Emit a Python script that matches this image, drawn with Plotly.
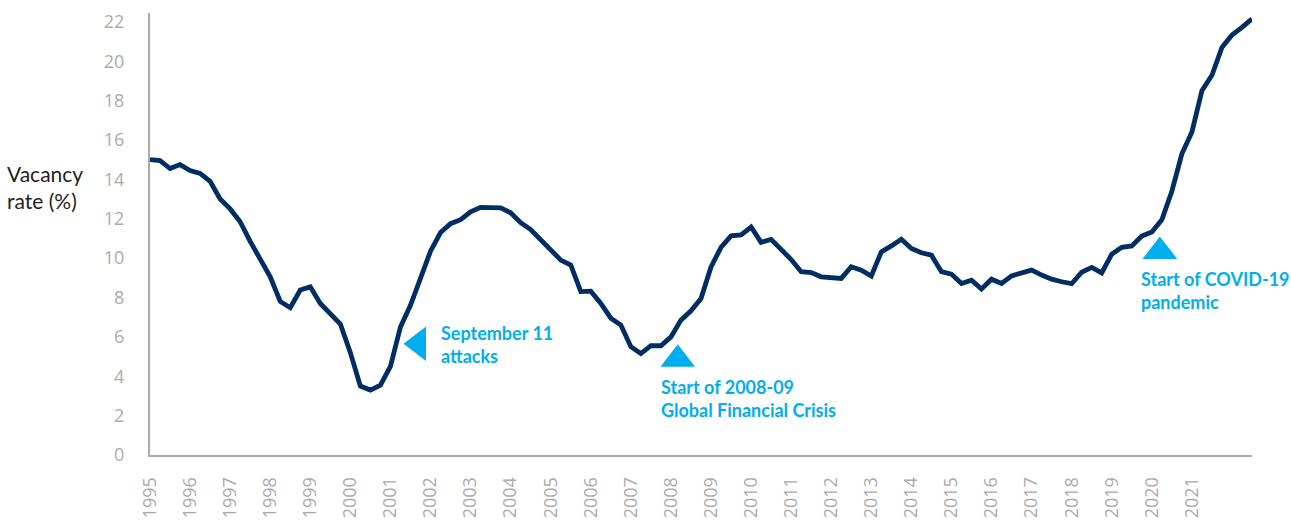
import plotly.graph_objects as go

start_year = 1995
vacancy = [
    15.0, 14.95, 14.55, 14.75, 14.45, 14.3, 13.9, 13.0, 12.5, 11.85,
    10.85, 9.9, 9.05, 7.8, 7.48, 8.38, 8.54, 7.7, 7.2, 6.65,
    5.2, 3.5, 3.3, 3.55, 4.5, 6.5, 7.6, 8.95, 10.35, 11.3,
    11.75, 11.95, 12.35, 12.58, 12.55, 12.55, 12.3, 11.8, 11.45, 10.95,
    10.4, 9.9, 9.65, 8.3, 8.32, 7.7, 6.95, 6.6, 5.5, 5.15,
    5.55, 5.55, 6.0, 6.85, 7.32, 7.95, 9.55, 10.55, 11.13, 11.18,
    11.58, 10.8, 10.95, 10.44, 9.93, 9.31, 9.27, 9.05, 9.02, 8.97,
    9.56, 9.39, 9.09, 10.32, 10.62, 10.96, 10.49, 10.27, 10.15, 9.31,
    9.19, 8.71, 8.88, 8.43, 8.93, 8.71, 9.10, 9.22, 9.39, 9.14,
    8.93, 8.80, 8.70, 9.28, 9.53, 9.25, 10.2, 10.55, 10.62, 11.12,
    11.33, 11.95, 13.4, 15.3, 16.4, 18.5, 19.29, 20.7, 21.33, 21.72,
    22.15,
]
quarters = [start_year + i / 4 for i in range(len(vacancy))]

year_ticks = list(range(1995, 2022))
year_labels = [str(y) for y in year_ticks]
y_ticks = list(range(0, 23, 2))

event_dates = [2001.7, 2008.17, 2020.2]
event_levels = [5.65, 4.86, 10.34]
event_symbols = ["triangle-left", "triangle-up", "triangle-up"]

label_texts = ["September 11<br>attacks",
               "Start of 2008-09<br>Global Financial Crisis",
               "Start of COVID-19<br>pandemic"]
label_dates = [2002.22, 2007.69, 2019.67]
label_levels = [5.61, 2.89, 8.35]

NAVY = "#002D62"
BLUE = "#00AEEF"
GREY = "#ABABAB"

fig = go.Figure()
fig.add_trace(go.Scatter(
    x=quarters, y=vacancy, mode="lines",
    line=dict(color=NAVY, width=4.8),
    hoverinfo="skip", showlegend=False,
))
fig.add_trace(go.Scatter(
    x=event_dates, y=event_levels, mode="markers",
    marker=dict(symbol=event_symbols, size=30, color=BLUE, line=dict(width=0)),
    hoverinfo="skip", showlegend=False,
))

for t, xd, yl in zip(label_texts, label_dates, label_levels):
    fig.add_annotation(
        x=xd, y=yl, xref="x", yref="y", text=t, showarrow=False,
        xanchor="left", yanchor="middle", align="left",
        font=dict(family="Lato", size=18, color=BLUE, weight="bold"),
    )

fig.add_annotation(
    x=-0.1315, y=13.63, xref="paper", yref="y",
    text="Vacancy<br>rate (%)", showarrow=False,
    xanchor="left", yanchor="middle", align="left",
    font=dict(family="Lato", size=21, color="#231F20"),
)

fig.update_layout(
    width=1291, height=525,
    margin=dict(l=150, r=39, t=13, b=70, autoexpand=False),
    paper_bgcolor="white", plot_bgcolor="white",
    xaxis=dict(
        range=[1995, 2022.5], tickmode="array", tickvals=year_ticks,
        ticktext=year_labels, tickangle=-90, showgrid=False, zeroline=False,
        showline=True, linecolor=GREY, linewidth=2, ticks="",
        ticklabelstandoff=13,
        tickfont=dict(family="Open Sans", size=18, color=GREY),
        automargin=False,
    ),
    yaxis=dict(
        range=[0, 22.45], tickmode="array", tickvals=y_ticks,
        showgrid=False, zeroline=False, showline=True, linecolor=GREY,
        linewidth=2, ticks="", ticklabelstandoff=20,
        tickfont=dict(family="Open Sans", size=18, color=GREY),
        automargin=False,
    ),
)

fig.write_html(
    "out.html",
    config={"displayModeBar": False},
    post_script="document.body.style.margin='0';document.body.style.overflow='hidden';",
)
